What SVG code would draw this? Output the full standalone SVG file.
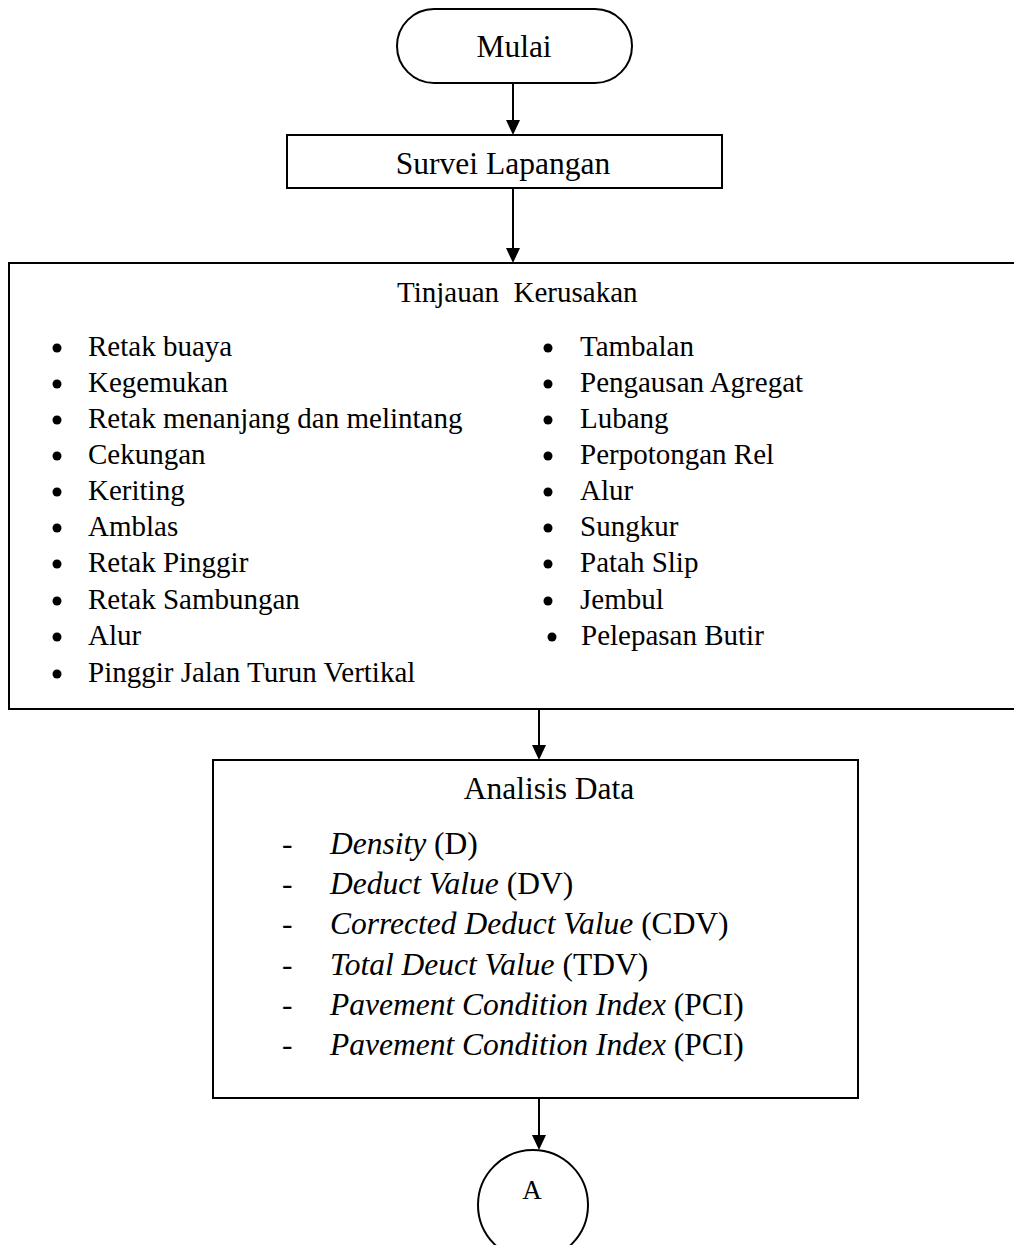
<svg xmlns="http://www.w3.org/2000/svg" width="1014" height="1245" viewBox="0 0 1014 1245">
<style>
.box{fill:#fff;stroke:#000;stroke-width:2}
.t{font-family:"Liberation Serif","Times New Roman",serif;fill:#000}
.big{font-size:31.5px}
.lst{font-size:29px}
.it{font-style:italic}
.con{stroke:#000;stroke-width:2;fill:none}
</style>
<defs>
<path id="ah" d="M-7,-15 L7,-15 L0,0 Z" fill="#000"/>
</defs>
<rect width="1014" height="1245" fill="#fff"/>
<g id="connectors">
<line class="con" x1="513" y1="83" x2="513" y2="121"/>
<use href="#ah" x="513" y="135"/>
<line class="con" x1="513" y1="188" x2="513" y2="250"/>
<use href="#ah" x="513" y="263"/>
<line class="con" x1="539" y1="709" x2="539" y2="747"/>
<use href="#ah" x="539" y="760"/>
<line class="con" x1="539" y1="1098" x2="539" y2="1137"/>
<use href="#ah" x="539" y="1150"/>
</g>
<g id="mulai">
<rect class="box" x="397" y="9" width="235" height="74" rx="37" ry="37"/>
<text class="t big" x="514" y="57" text-anchor="middle">Mulai</text>
</g>
<g id="survei">
<rect class="box" x="287" y="135" width="435" height="53"/>
<text class="t big" x="503" y="174" text-anchor="middle">Survei Lapangan</text>
</g>
<g id="tinjauan">
<rect class="box" x="9" y="263" width="1010" height="446"/>
<text class="t lst" x="397" y="302" xml:space="preserve">Tinjauan  Kerusakan</text>
<g fill="#000">
<circle cx="57" cy="348" r="4.5"/><circle cx="57" cy="384" r="4.5"/><circle cx="57" cy="420" r="4.5"/><circle cx="57" cy="456" r="4.5"/><circle cx="57" cy="492" r="4.5"/><circle cx="57" cy="528" r="4.5"/><circle cx="57" cy="564" r="4.5"/><circle cx="57" cy="601" r="4.5"/><circle cx="57" cy="637" r="4.5"/><circle cx="57" cy="674" r="4.5"/>
<circle cx="548" cy="348" r="4.5"/><circle cx="548" cy="384" r="4.5"/><circle cx="548" cy="420" r="4.5"/><circle cx="548" cy="456" r="4.5"/><circle cx="548" cy="492" r="4.5"/><circle cx="548" cy="528" r="4.5"/><circle cx="548" cy="564" r="4.5"/><circle cx="548" cy="601" r="4.5"/><circle cx="552" cy="637" r="4.5"/>
</g>
<text class="t lst" x="88" y="356">Retak buaya</text>
<text class="t lst" x="88" y="392">Kegemukan</text>
<text class="t lst" x="88" y="428">Retak menanjang dan melintang</text>
<text class="t lst" x="88" y="464">Cekungan</text>
<text class="t lst" x="88" y="500">Keriting</text>
<text class="t lst" x="88" y="536">Amblas</text>
<text class="t lst" x="88" y="572">Retak Pinggir</text>
<text class="t lst" x="88" y="609">Retak Sambungan</text>
<text class="t lst" x="88" y="645">Alur</text>
<text class="t lst" x="88" y="682">Pinggir Jalan Turun Vertikal</text>
<text class="t lst" x="580" y="356">Tambalan</text>
<text class="t lst" x="580" y="392">Pengausan Agregat</text>
<text class="t lst" x="580" y="428">Lubang</text>
<text class="t lst" x="580" y="464">Perpotongan Rel</text>
<text class="t lst" x="580" y="500">Alur</text>
<text class="t lst" x="580" y="536">Sungkur</text>
<text class="t lst" x="580" y="572">Patah Slip</text>
<text class="t lst" x="580" y="609">Jembul</text>
<text class="t lst" x="581" y="645">Pelepasan Butir</text>
</g>
<g id="analisis">
<rect class="box" x="213" y="760" width="645" height="338"/>
<text class="t big" x="549" y="799" text-anchor="middle">Analisis Data</text>
<g class="t big">
<text x="282" y="854">-</text>
<text x="282" y="894">-</text>
<text x="282" y="934">-</text>
<text x="282" y="975">-</text>
<text x="282" y="1015">-</text>
<text x="282" y="1055">-</text>
</g>
<text class="t big" x="330" y="854"><tspan class="it">Density</tspan> (D)</text>
<text class="t big" x="330" y="894"><tspan class="it">Deduct Value</tspan> (DV)</text>
<text class="t big" x="330" y="934"><tspan class="it">Corrected Deduct Value</tspan> (CDV)</text>
<text class="t big" x="330" y="975" fill="#222"><tspan class="it">Total Deuct Value</tspan> (TDV)</text>
<text class="t big" x="330" y="1015" fill="#222"><tspan class="it">Pavement Condition Index</tspan> (PCI)</text>
<text class="t big" x="330" y="1055" fill="#222"><tspan class="it">Pavement Condition Index</tspan> (PCI)</text>
</g>
<g id="connector-a">
<circle class="box" cx="533" cy="1205" r="55"/>
<text class="t" font-size="27" x="532" y="1199" text-anchor="middle">A</text>
</g>
</svg>
